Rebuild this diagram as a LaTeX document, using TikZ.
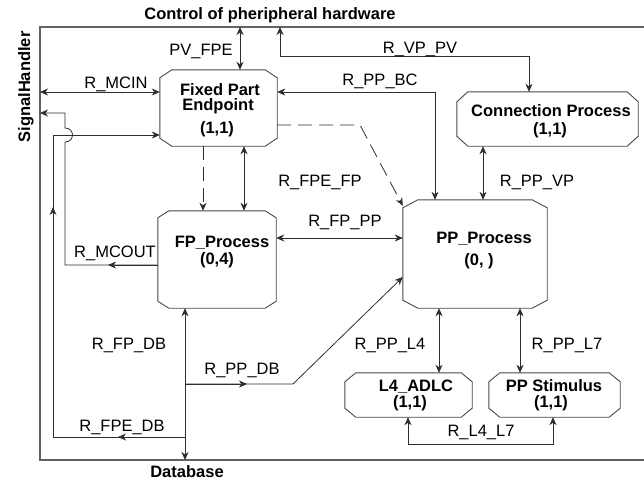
\documentclass[tikz,border=0pt]{standalone}
\usepackage{fontspec}
\setmainfont{Liberation Sans}
\usetikzlibrary{arrows.meta,calc}
\tikzset{
  >={Stealth[length=8pt,width=7pt,inset=2.5pt]},
  lbl/.style={font=\fontsize{16.5}{18}\selectfont, inner sep=0pt, anchor=base},
  btxt/.style={font=\fontsize{16.5}{18}\selectfont\bfseries, inner sep=0pt, anchor=base},
  boxn/.style={draw=none, rectangle, inner sep=0pt},
  boxline/.style={draw=black!72, line width=0.9pt},
  conn/.style={draw=black!82, line width=0.8pt},
  frameline/.style={draw=black!62, line width=1.4pt},
  dashline/.style={dash pattern=on 14pt off 7pt},
}
\newcommand\octbox[3]{%
  \draw[boxline] ($(#1.north west)+(#2,0)$) -- ($(#1.north east)+(-#2,0)$)
    -- ($(#1.north east)+(0,#3)$) -- ($(#1.south east)+(0,-#3)$)
    -- ($(#1.south east)+(-#2,0)$) -- ($(#1.south west)+(#2,0)$)
    -- ($(#1.south west)+(0,-#3)$) -- ($(#1.north west)+(0,#3)$) -- cycle;}
\begin{document}
\begin{tikzpicture}[x=1pt,y=-1pt]
\useasboundingbox (0,0) rectangle (644,480);
% frame
\draw[frameline] (644,27) -- (40,27) -- (40,460) -- (644,460);
\node[btxt] (title) at (270,19) {Control of pheripheral hardware};
\node[btxt, rotate=90] (sh) at (30,87) {SignalHandler};
\node[btxt] (dbt) at (187,477) {Database};

% boxes
\node[boxn, minimum width=117pt, minimum height=76pt] (fpe) at (218.5,108) {};
\node[boxn, minimum width=118pt, minimum height=97pt] (fpp) at (217,259.5) {};
\node[boxn, minimum width=144pt, minimum height=108pt] (ppp) at (475,254) {};
\node[boxn, minimum width=181pt, minimum height=54pt] (cp) at (547.5,119) {};
\node[boxn, minimum width=127pt, minimum height=44pt] (l4) at (408.5,395) {};
\node[boxn, minimum width=131pt, minimum height=44pt] (pps) at (554.5,395) {};
\octbox{fpe}{12}{8}
\octbox{fpp}{11}{7}
\octbox{ppp}{15}{8}
\octbox{cp}{11}{10}
\octbox{l4}{11}{9}
\octbox{pps}{11}{9}

% box texts
\node[btxt] (fpe1) at (220,95.5) {Fixed Part};
\node[btxt] (fpe2) at (218,110.5) {Endpoint};
\node[btxt] (fpe3) at (217,133) {(1,1)};
\node[btxt] (fpp1) at (222,247) {FP\_Process};
\node[btxt] (fpp2) at (217,264) {(0,4)};
\node[btxt] (ppp1) at (484,243) {PP\_Process};
\node[btxt] (ppp2) at (479,265) {(0, )};
\node[btxt] (cp1) at (551,116) {Connection Process};
\node[btxt] (cp2) at (550,134) {(1,1)};
\node[btxt] (l41) at (416,391) {L4\_ADLC};
\node[btxt] (l42) at (410,407) {(1,1)};
\node[btxt] (pps1) at (554,391) {PP Stimulus};
\node[btxt] (pps2) at (551,407) {(1,1)};

% helper coordinates
\coordinate (pvT) at (240,27);
\coordinate (vpT) at (280,27);
\coordinate (vpR) at (529,56);
\coordinate (mcinL) at (40,92);
\coordinate (bc) at (435,92);
\coordinate (dsh) at (360,125);
\coordinate (dv) at (203,0);
\coordinate (dv2) at (244,0);
\coordinate (fppp) at (0,238);
\coordinate (mco) at (65,265);
\coordinate (hopB) at (65,142);
\coordinate (hopA) at (65,128);
\coordinate (mcoU) at (65,113);
\coordinate (mcoL) at (40,113);
\coordinate (fdb) at (185,437);
\coordinate (fdbL) at (53,437);
\coordinate (fdbT) at (53,135);
\coordinate (dbB) at (185,460);
\coordinate (pdb) at (185,384);
\coordinate (pdbK) at (293,384);
\coordinate (xvp) at (483,0);
\coordinate (xl4) at (439,0);
\coordinate (xl7) at (520,0);
\coordinate (lla) at (408,444);
\coordinate (llb) at (553,444);

% connectors
\draw[conn,<->] (pvT) -- (pvT |- fpe.north);
\draw[conn,<->] (vpT) |- (vpR) -- (vpR |- cp.north);
\draw[conn,<->] (mcinL) -- (mcinL -| fpe.west);
\draw[conn,<->] (bc -| fpe.east) -- (bc) -- (bc |- ppp.north);
\draw[conn,dashline,->] (dsh -| fpe.east) -- (dsh) -- ($(ppp.north west)+(0,6)$);
\draw[conn,dashline,->] (fpe.south -| dv) -- (fpp.north -| dv);
\draw[conn,<->] (fpe.south -| dv2) -- (fpp.north -| dv2);
\draw[conn,<->] (fpp.east |- fppp) -- (ppp.west |- fppp);
\draw[conn,->] (fpp.west |- mco) -- (mco) -- (hopB) .. controls (75,142) and (75,128) .. (hopA) -- (mcoU) -- (mcoL);
\draw[conn,->] (fpp.west |- mco) -- (108,265);
\draw[conn,->] (fdb) -- (fdbL) -- (fdbT) -- (fdbT -| fpe.west);
\draw[conn,->] (fdb) -- (118,437);
\draw[conn,->] (fdbL) -- (53,207);
\draw[conn,<->] (fpp.south -| dbB) -- (dbB);
\draw[conn,->] (pdb) -- (pdbK) -- ($(ppp.west)+(0,23)$);
\draw[conn,->] (pdb) -- (247,384);
\draw[conn,<->] (cp.south -| xvp) -- (ppp.north -| xvp);
\draw[conn,<->] (ppp.south -| xl4) -- (l4.north -| xl4);
\draw[conn,<->] (ppp.south -| xl7) -- (pps.north -| xl7);
\draw[conn,<->] (l4.south -| lla) -- (lla) -- (llb) -- (pps.south -| llb);

% labels
\node[lbl] (lpv) at (201,55) {PV\_FPE};
\node[lbl] (lvp) at (420,53) {R\_VP\_PV};
\node[lbl] (lmcin) at (116,88) {R\_MCIN};
\node[lbl] (lbc) at (380,85) {R\_PP\_BC};
\node[lbl] (lfpefp) at (320,186) {R\_FPE\_FP};
\node[lbl] (lfppp) at (345,226) {R\_FP\_PP};
\node[lbl] (lmcout) at (115,257) {R\_MCOUT};
\node[lbl] (lfpdb) at (129,349) {R\_FP\_DB};
\node[lbl] (lppdb) at (242,374) {R\_PP\_DB};
\node[lbl] (lfpedb) at (122,431) {R\_FPE\_DB};
\node[lbl] (lppvp) at (537,186) {R\_PP\_VP};
\node[lbl] (lppl4) at (390,349) {R\_PP\_L4};
\node[lbl] (lppl7) at (567,349) {R\_PP\_L7};
\node[lbl] (ll4l7) at (481,436) {R\_L4\_L7};
\end{tikzpicture}
\end{document}
